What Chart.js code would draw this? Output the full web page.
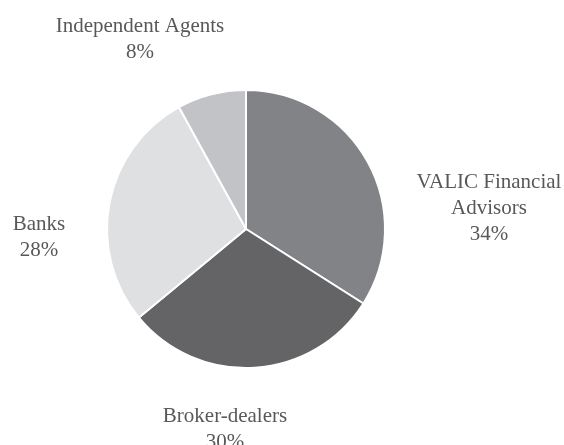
<!DOCTYPE html>
<html>
<head>
<meta charset="utf-8">
<script src="https://cdn.jsdelivr.net/npm/chart.js@4.4.1/dist/chart.umd.min.js"></script>
<style>
  html, body { margin: 0; padding: 0; background: #ffffff; }
  #wrap { width: 564px; height: 445px; position: relative; }
</style>
</head>
<body>
<div id="wrap"><canvas id="chart"></canvas></div>
<script>
// Distribution channels, share of sales (%)
const categories = ['VALIC Financial Advisors', 'Broker-dealers', 'Banks', 'Independent Agents'];
const shares = [34, 30, 28, 8];
// Label text lines for each slice
const labelLines = [
  ['VALIC Financial', 'Advisors', '34%'],
  ['Broker-dealers', '30%'],
  ['Banks', '28%'],
  ['Independent Agents', '8%']
];

const sliceColors = ['#818386', '#646467', '#dfe0e2', '#c2c3c6'];

// Draws the category labels outside the pie, placed relative to the pie centre
const outsideLabels = {
  id: 'outsideLabels',
  afterDatasetsDraw(chart, args, opts) {
    const meta = chart.getDatasetMeta(0);
    const ctx = chart.ctx;
    ctx.save();
    ctx.font = opts.font;
    ctx.fillStyle = opts.color;
    ctx.textAlign = 'center';
    ctx.textBaseline = 'middle';
    meta.data.forEach((arc, i) => {
      const lines = opts.lines[i];
      const off = opts.offsets[i];
      const cx = arc.x + off[0];
      const cy = arc.y + off[1];
      const top = cy - (lines.length - 1) * opts.lineHeight / 2;
      lines.forEach((t, j) => ctx.fillText(t, cx, top + j * opts.lineHeight));
    });
    ctx.restore();
  }
};

new Chart(document.getElementById('chart'), {
  type: 'pie',
  data: {
    labels: categories,
    datasets: [{
      data: shares,
      backgroundColor: sliceColors,
      borderColor: '#ffffff',
      borderWidth: 2
    }]
  },
  options: {
    responsive: true,
    maintainAspectRatio: false,
    animation: false,
    layout: { padding: { left: 106, right: 178, top: 89, bottom: 76 } },
    plugins: {
      legend: { display: false },
      tooltip: { enabled: false },
      outsideLabels: {
        lines: labelLines,
        offsets: [[243, -21], [-21, 200], [-207, 8], [-106, -190]],
        font: '21px "Liberation Serif", "Times New Roman", serif',
        color: '#585858',
        lineHeight: 26
      }
    }
  },
  plugins: [outsideLabels]
});
</script>
</body>
</html>
